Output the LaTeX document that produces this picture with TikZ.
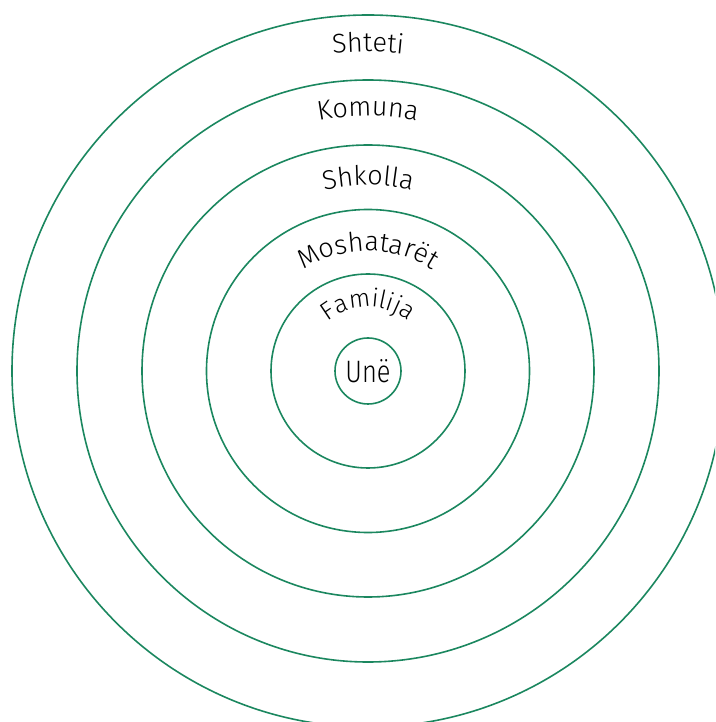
\documentclass[tikz,border=0pt]{standalone}
\usepackage{fontspec}
\setmainfont{Fira Sans}[UprightFont=* Light]
\newfontfamily\unefont{Fira Sans}[UprightFont=* Light, FakeStretch=0.82]
\usetikzlibrary{decorations.text}
\definecolor{ringgreen}{RGB}{27,135,95}

\begin{document}
\begin{tikzpicture}[
    ring/.style={draw=ringgreen, line width=1.6pt},
    lbl/.style={decorate, decoration={text along path, text align=center,
                text={|\fontsize{27}{32}\selectfont|#1}}},
    smalllbl/.style={decorate, decoration={text along path, text align=center,
                text={|\fontsize{25}{30}\selectfont|#1}}}]
  \useasboundingbox (-368pt,-351pt) rectangle (347pt,371pt);
  \clip (-368pt,-351pt) rectangle (347pt,371pt);
  % rings, outside in
  \draw[ring] (0,0) circle[radius=356pt];
  \draw[ring] (0,0) circle[radius=291pt];
  \draw[ring] (0,0) circle[radius=226pt];
  \draw[ring] (0,0) circle[radius=161.5pt];
  \draw[ring] (0,0) circle[radius=97pt];
  \node[ring, circle, minimum size=66pt, inner sep=0pt,
        font=\unefont\fontsize{31}{36}\selectfont] (une) at (0,0) {Unë};
  % curved labels
  \path[lbl=Shteti] (180:319pt) arc[start angle=180, end angle=0, radius=319pt];
  \path[lbl=Komuna] (180:255pt) arc[start angle=180, end angle=0, radius=255pt];
  \path[lbl=Shkolla] (180:186pt) arc[start angle=180, end angle=0, radius=186pt];
  \path[lbl=Moshatarët] (180:120pt) arc[start angle=180, end angle=0, radius=120pt];
  \path[smalllbl=Familija] (180:64pt) arc[start angle=180, end angle=0, radius=64pt];
\end{tikzpicture}
\end{document}
